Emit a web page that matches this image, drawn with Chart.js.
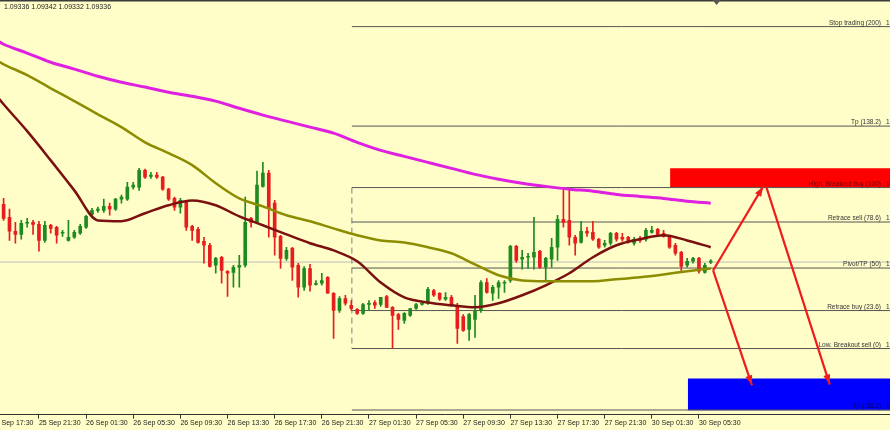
<!DOCTYPE html>
<html>
<head>
<meta charset="utf-8">
<script src="https://cdn.jsdelivr.net/npm/chart.js@4.4.1/dist/chart.umd.min.js"></script>
<style>
  html, body { margin: 0; padding: 0; background: #fffec8; }
  canvas { display: block; }
</style>
</head>
<body>
<canvas id="chart" width="890" height="430"></canvas>
<script>
// EURUSD M30 - bar 0 = 25 Sep 18:30, weekend gap collapsed like MT4 does

// CANDLES
// =======
const opens = [
  1.09480, 1.09448, 1.09413, 1.09405, 1.09433, 1.09435, 1.09430, 1.09390, 1.09428, 1.09423,
  1.09408, 1.09390, 1.09398, 1.09408, 1.09423, 1.09455, 1.09465, 1.09465, 1.09475, 1.09468,
  1.09493, 1.09493, 1.09523, 1.09523, 1.09565, 1.09550, 1.09553, 1.09548, 1.09518, 1.09495,
  1.09473, 1.09485, 1.09425, 1.09418, 1.09388, 1.09378, 1.09328, 1.09348, 1.09313, 1.09310,
  1.09323, 1.09328, 1.09445, 1.09435, 1.09525, 1.09558, 1.09483, 1.09400, 1.09345, 1.09370,
  1.09328, 1.09273, 1.09320, 1.09280, 1.09283, 1.09298, 1.09258, 1.09215, 1.09245, 1.09228,
  1.09218, 1.09208, 1.09230, 1.09235, 1.09230, 1.09250, 1.09223, 1.09205, 1.09190, 1.09203,
  1.09220, 1.09230, 1.09233, 1.09265, 1.09258, 1.09243, 1.09248, 1.09228, 1.09200, 1.09168,
  1.09193, 1.09215, 1.09285, 1.09258, 1.09273, 1.09283, 1.09290, 1.09375, 1.09343, 1.09348,
  1.09348, 1.09363, 1.09323, 1.09343, 1.09373, 1.09443, 1.09440, 1.09398, 1.09385, 1.09413,
  1.09410, 1.09393, 1.09378, 1.09383, 1.09408, 1.09398, 1.09398, 1.09383, 1.09395, 1.09393,
  1.09410, 1.09418, 1.09408, 1.09400, 1.09378, 1.09360, 1.09328, 1.09338, 1.09345, 1.09310,
  1.09336
];
const highs = [
  1.09495, 1.09468, 1.09435, 1.09440, 1.09445, 1.09440, 1.09438, 1.09438, 1.09430, 1.09425,
  1.09415, 1.09440, 1.09415, 1.09430, 1.09453, 1.09470, 1.09473, 1.09493, 1.09483, 1.09495,
  1.09503, 1.09535, 1.09535, 1.09570, 1.09568, 1.09560, 1.09560, 1.09550, 1.09520, 1.09498,
  1.09495, 1.09490, 1.09428, 1.09423, 1.09398, 1.09383, 1.09348, 1.09350, 1.09315, 1.09328,
  1.09353, 1.09498, 1.09448, 1.09563, 1.09585, 1.09565, 1.09490, 1.09403, 1.09373, 1.09373,
  1.09333, 1.09325, 1.09330, 1.09290, 1.09308, 1.09300, 1.09260, 1.09250, 1.09253, 1.09240,
  1.09220, 1.09233, 1.09240, 1.09240, 1.09248, 1.09253, 1.09225, 1.09208, 1.09210, 1.09220,
  1.09233, 1.09235, 1.09273, 1.09268, 1.09260, 1.09260, 1.09253, 1.09233, 1.09205, 1.09208,
  1.09253, 1.09290, 1.09295, 1.09278, 1.09290, 1.09290, 1.09378, 1.09378, 1.09365, 1.09358,
  1.09448, 1.09365, 1.09348, 1.09395, 1.09453, 1.09522, 1.09522, 1.09403, 1.09438, 1.09423,
  1.09438, 1.09395, 1.09390, 1.09410, 1.09410, 1.09408, 1.09400, 1.09398, 1.09400, 1.09420,
  1.09425, 1.09420, 1.09415, 1.09403, 1.09383, 1.09363, 1.09345, 1.09348, 1.09348, 1.09333,
  1.09342
];
const lows = [
  1.09440, 1.09390, 1.09383, 1.09393, 1.09423, 1.09405, 1.09363, 1.09385, 1.09408, 1.09383,
  1.09400, 1.09388, 1.09395, 1.09405, 1.09420, 1.09450, 1.09460, 1.09460, 1.09453, 1.09465,
  1.09483, 1.09490, 1.09518, 1.09515, 1.09545, 1.09545, 1.09545, 1.09515, 1.09490, 1.09465,
  1.09458, 1.09415, 1.09390, 1.09383, 1.09333, 1.09323, 1.09308, 1.09283, 1.09250, 1.09273,
  1.09273, 1.09323, 1.09423, 1.09433, 1.09523, 1.09398, 1.09353, 1.09320, 1.09340, 1.09290,
  1.09248, 1.09265, 1.09263, 1.09278, 1.09278, 1.09258, 1.09145, 1.09210, 1.09228, 1.09215,
  1.09205, 1.09205, 1.09215, 1.09220, 1.09225, 1.09223, 1.09120, 1.09168, 1.09183, 1.09200,
  1.09218, 1.09228, 1.09230, 1.09250, 1.09240, 1.09240, 1.09225, 1.09133, 1.09163, 1.09140,
  1.09148, 1.09210, 1.09258, 1.09240, 1.09245, 1.09260, 1.09285, 1.09335, 1.09318, 1.09320,
  1.09318, 1.09320, 1.09290, 1.09323, 1.09340, 1.09423, 1.09378, 1.09353, 1.09383, 1.09400,
  1.09390, 1.09370, 1.09373, 1.09378, 1.09388, 1.09388, 1.09383, 1.09378, 1.09385, 1.09388,
  1.09408, 1.09403, 1.09398, 1.09370, 1.09353, 1.09310, 1.09323, 1.09333, 1.09308, 1.09308,
  1.09332
];
const closes = [
  1.09445, 1.09413, 1.09405, 1.09433, 1.09435, 1.09430, 1.09390, 1.09428, 1.09420, 1.09403,
  1.09410, 1.09398, 1.09410, 1.09425, 1.09450, 1.09465, 1.09468, 1.09475, 1.09468, 1.09493,
  1.09498, 1.09523, 1.09528, 1.09565, 1.09548, 1.09553, 1.09548, 1.09518, 1.09493, 1.09473,
  1.09490, 1.09423, 1.09415, 1.09385, 1.09378, 1.09325, 1.09345, 1.09315, 1.09308, 1.09323,
  1.09328, 1.09435, 1.09435, 1.09528, 1.09558, 1.09470, 1.09398, 1.09345, 1.09365, 1.09323,
  1.09273, 1.09320, 1.09278, 1.09283, 1.09290, 1.09258, 1.09215, 1.09245, 1.09233, 1.09220,
  1.09208, 1.09230, 1.09233, 1.09228, 1.09248, 1.09223, 1.09203, 1.09193, 1.09208, 1.09220,
  1.09230, 1.09233, 1.09268, 1.09253, 1.09243, 1.09248, 1.09228, 1.09170, 1.09165, 1.09205,
  1.09215, 1.09285, 1.09260, 1.09273, 1.09285, 1.09285, 1.09375, 1.09340, 1.09348, 1.09350,
  1.09360, 1.09323, 1.09345, 1.09373, 1.09443, 1.09435, 1.09398, 1.09383, 1.09413, 1.09408,
  1.09393, 1.09373, 1.09383, 1.09408, 1.09393, 1.09393, 1.09388, 1.09393, 1.09390, 1.09415,
  1.09415, 1.09405, 1.09400, 1.09373, 1.09358, 1.09325, 1.09338, 1.09345, 1.09313, 1.09328,
  1.09336
];

// TIME AXIS (one label every 8 bars)
// ==================================
const timeTicks = [-2, 6, 14, 22, 30, 38, 46, 54, 62, 70, 78, 86, 94, 102, 110, 118];
const timeLabels = [
  '25 Sep 17:30', '25 Sep 21:30', '26 Sep 01:30', '26 Sep 05:30', '26 Sep 09:30',
  '26 Sep 13:30', '26 Sep 17:30', '26 Sep 21:30', '27 Sep 01:30', '27 Sep 05:30',
  '27 Sep 09:30', '27 Sep 13:30', '27 Sep 17:30', '27 Sep 21:30', '30 Sep 01:30',
  '30 Sep 05:30'
];

// MOVING AVERAGES (read every 4 bars)
// ===================================
const maBars = [-1, 0, 4, 8, 12, 16, 20, 24, 28, 32, 36, 40, 44, 48, 52, 56, 60,
  64, 68, 72, 76, 80, 84, 88, 92, 96, 100, 104, 108, 112, 116, 120];
const maSlow = [1.09888, 1.09880, 1.09858, 1.09835, 1.09818, 1.09800, 1.09785, 1.09773,
  1.09760, 1.09750, 1.09738, 1.09720, 1.09703, 1.09688, 1.09673, 1.09658, 1.09635,
  1.09615, 1.09600, 1.09585, 1.09570, 1.09555, 1.09543, 1.09533, 1.09525, 1.09518,
  1.09513, 1.09505, 1.09500, 1.09495, 1.09488, 1.09483];
const maMid = [1.09838, 1.09830, 1.09803, 1.09770, 1.09738, 1.09705, 1.09673, 1.09635,
  1.09608, 1.09578, 1.09533, 1.09495, 1.09475, 1.09453, 1.09438, 1.09420, 1.09403,
  1.09390, 1.09385, 1.09373, 1.09358, 1.09330, 1.09303, 1.09290, 1.09288, 1.09288,
  1.09288, 1.09293, 1.09298, 1.09305, 1.09313, 1.09320];
const maFast = [1.09748, 1.09730, 1.09663, 1.09590, 1.09515, 1.09440, 1.09438, 1.09458,
  1.09478, 1.09490, 1.09478, 1.09450, 1.09428, 1.09405, 1.09383, 1.09365, 1.09338,
  1.09285, 1.09248, 1.09235, 1.09228, 1.09223, 1.09233, 1.09253, 1.09278, 1.09308,
  1.09348, 1.09378, 1.09393, 1.09403, 1.09390, 1.09373];

// FIBO OBJECT
// ===========
const fibBar = 59.1;
const fibLow = 1.09120;
const fibHigh = 1.09522;
const fibLevels = [200, 138.2, 100, 78.6, 50, 23.6, 0, -38.2];
const fibNames = ['Stop trading', 'Tp', 'High. Breakout buy', 'Retrace sell',
  'Pivot/TP', 'Retrace buy', 'Low. Breakout sell', 'Tp'];
const fibTextColors = ['#333', '#333', '#7a0000', '#333', '#333', '#333', '#333', '#00006e'];

// ZONES AND ARROWS
// ================
const buyZone = { from: 113.1, top: 1.09570, bottom: 1.09522 };
const sellZone = { from: 116.1, top: 1.09045, bottom: 1.08966 };
const arrows = [
  [[120.4, 1.09315], [128.9, 1.09525]],
  [[129.4, 1.09525], [140.2, 1.09030]],
  [[120.4, 1.09315], [127.0, 1.09028]],
];
const shiftBar = 121;

// axis ranges
const xMin = -0.61, xMax = 150.42;
const yMin = 1.08955, yMax = 1.09983;

const BULL = '#1f8a1f';
const BEAR = '#e61e1e';
const ARROW = '#ee1c1c';
const last = closes.length - 1;
const fibPrice = (lvl) => fibLow + (fibHigh - fibLow) * lvl / 100;
const isUp = (i) => closes[i] >= opens[i];

function seg(points, color, width, order, extra) {
    return Object.assign({
        type: 'line',
        data: points.map(([x, y]) => ({ x, y })),
        borderColor: color,
        borderWidth: width,
        pointRadius: 0,
        fill: false,
        order,
    }, extra || {});
}

const datasets = [];

// arrows on top
arrows.forEach(([a, b]) => datasets.push(seg([a, b], ARROW, 2.2, 0)));

// moving averages
[[maSlow, '#e020e0', 3], [maMid, '#8c8c00', 2.5], [maFast, '#7a1010', 2.5]].forEach(([vals, color, w]) => {
    datasets.push(seg(maBars.map((b, k) => [b, vals[k]]), color, w, 1, { tension: 0.4, cubicInterpolationMode: 'monotone' }));
});

// candle bodies + wicks
datasets.push({
    type: 'bar',
    data: opens.map((o, i) => ({ x: i, y: [o, closes[i]] })),
    backgroundColor: (ctx) => isUp(ctx.dataIndex) ? BULL : BEAR,
    barThickness: 3,
    minBarLength: 1,
    grouped: false,
    order: 2,
});
datasets.push({
    type: 'bar',
    data: lows.map((l, i) => ({ x: i, y: [l, highs[i]] })),
    backgroundColor: (ctx) => isUp(ctx.dataIndex) ? BULL : BEAR,
    barThickness: 1,
    grouped: false,
    order: 3,
});

// fibo lines + dashed anchor line
fibLevels.forEach((lvl) => datasets.push(seg([[fibBar, fibPrice(lvl)], [200, fibPrice(lvl)]], '#555', 1, 4)));
datasets.push(seg([[fibBar, fibHigh], [fibBar, fibLow]], '#808080', 1, 4, { borderDash: [6, 4] }));

// bid line
datasets.push(seg([[-5, closes[last]], [200, closes[last]]], '#bdbdbd', 1, 5));

// zones
datasets.push(seg([[buyZone.from, buyZone.top], [200, buyZone.top]], 'rgba(0,0,0,0)', 0, 6,
    { fill: { value: buyZone.bottom }, backgroundColor: '#ff0000' }));
datasets.push(seg([[sellZone.from, sellZone.top], [200, sellZone.top]], 'rgba(0,0,0,0)', 0, 6,
    { fill: { value: sellZone.bottom }, backgroundColor: '#0000ff' }));

// OVERLAY TEXT / ARROW HEADS
// ==========================
const overlay = {
    id: 'overlay',
    afterDatasetsDraw(chart) {
        const { ctx, chartArea, scales: { x, y } } = chart;
        ctx.save();
        ctx.beginPath();
        ctx.rect(chartArea.left, chartArea.top, chartArea.width, chartArea.height);
        ctx.clip();

        // arrow heads
        ctx.fillStyle = ARROW;
        arrows.forEach(([a, b]) => {
            const x1 = x.getPixelForValue(a[0]), y1 = y.getPixelForValue(a[1]);
            const x2 = x.getPixelForValue(b[0]), y2 = y.getPixelForValue(b[1]);
            const ang = Math.atan2(y2 - y1, x2 - x1);
            const len = 10, half = 3.5;
            const bx = x2 - len * Math.cos(ang), by = y2 - len * Math.sin(ang);
            ctx.beginPath();
            ctx.moveTo(x2, y2);
            ctx.lineTo(bx + half * Math.sin(ang), by - half * Math.cos(ang));
            ctx.lineTo(bx - half * Math.sin(ang), by + half * Math.cos(ang));
            ctx.closePath();
            ctx.fill();
        });

        // fibo level descriptions
        ctx.font = '6.5px "Liberation Sans", Arial, sans-serif';
        ctx.textBaseline = 'alphabetic';
        fibLevels.forEach((lvl, k) => {
            const py = y.getPixelForValue(fibPrice(lvl)) - 2;
            ctx.fillStyle = fibTextColors[k];
            ctx.textAlign = 'right';
            ctx.fillText(`${fibNames[k]} (${lvl})`, chartArea.right - 9, py);
            ctx.textAlign = 'left';
            ctx.fillText(fibPrice(lvl).toFixed(5), chartArea.right - 4, py);
        });
        ctx.restore();

        // header OHLC of the live bar
        ctx.save();
        ctx.font = '7px "Liberation Sans", Arial, sans-serif';
        ctx.fillStyle = '#222';
        ctx.textAlign = 'left';
        ctx.textBaseline = 'middle';
        const ohlc = [opens[last], highs[last], lows[last], closes[last]].map((v) => v.toFixed(5)).join(' ');
        ctx.fillText(ohlc, 4, 7);

        // top frame + chart shift marker
        ctx.fillStyle = '#3a3a3a';
        ctx.fillRect(0, 0, chart.width, 1.5);
        const sx = x.getPixelForValue(shiftBar);
        ctx.fillStyle = '#555';
        ctx.beginPath();
        ctx.moveTo(sx - 4, 0);
        ctx.lineTo(sx + 4, 0);
        ctx.lineTo(sx, 5);
        ctx.closePath();
        ctx.fill();
        ctx.restore();
    },
};

Chart.defaults.font.family = '"Liberation Sans", Arial, sans-serif';

new Chart(document.getElementById('chart'), {
    type: 'bar',
    data: { datasets },
    plugins: [overlay],
    options: {
        responsive: false,
        animation: false,
        events: [],
        layout: { autoPadding: false, padding: { top: 3, left: 0, right: 0, bottom: 3 } },
        plugins: { legend: { display: false }, tooltip: { enabled: false } },
        scales: {
            x: {
                type: 'linear',
                min: xMin,
                max: xMax,
                offset: false,
                afterBuildTicks: (axis) => { axis.ticks = timeTicks.map((v) => ({ value: v })); },
                // first tick sits left of the plot; keep the plot flush with the edge anyway
                afterFit: (axis) => { axis.paddingLeft = 0; axis.paddingRight = 0; },
                ticks: {
                    autoSkip: false,
                    maxRotation: 0,
                    minRotation: 0,
                    align: 'start',
                    padding: 0,
                    color: '#222',
                    font: { size: 7 },
                    callback: (v) => timeLabels[timeTicks.indexOf(v)] || '',
                },
                grid: { drawOnChartArea: false, offset: false, tickLength: 4, tickColor: '#333' },
                border: { display: true, color: '#333', width: 1 },
            },
            y: {
                display: false,
                min: yMin,
                max: yMax,
            },
        },
    },
});
</script>
</body>
</html>
